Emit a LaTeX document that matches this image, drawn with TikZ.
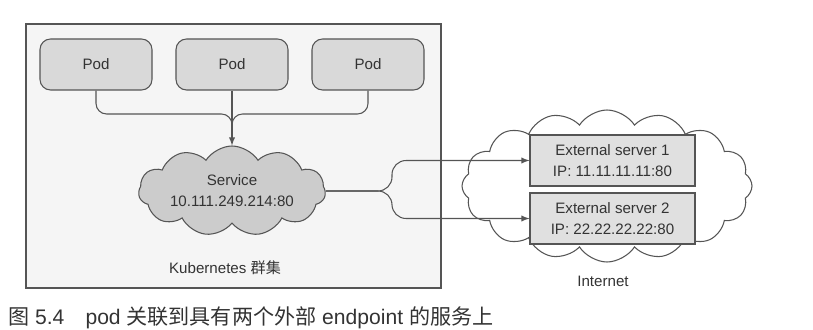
\documentclass[tikz,border=0pt]{standalone}
\usepackage{fontspec}
\setmainfont{Liberation Sans}
\newfontfamily\cjk{Noto Sans CJK SC}
\usepackage{tikz}
\usetikzlibrary{arrows,shapes.symbols}

\definecolor{ink}{HTML}{333333}
\definecolor{edge}{HTML}{555555}

\begin{document}
\begin{tikzpicture}[scale=1,
  pod/.style={draw=edge,fill=gray!30,rounded corners=6pt,minimum width=2.24cm,minimum height=1.02cm,line width=0.6pt,text=ink},
  ext/.style={draw=edge,fill=gray!24,minimum width=3.30cm,minimum height=1.02cm,line width=0.6pt,text=ink,align=center},
  link/.style={draw=edge,line width=0.6pt,rounded corners=6pt},
  every node/.style={font=\fontsize{8.6}{12}\selectfont}]
\useasboundingbox (0,0) rectangle (16.26,6.58);
%\draw[step=.5cm,gray,very thin] (0,0) grid (16.26,6.58);

% cluster
\node[draw=edge,fill=gray!8,line width=0.6pt,minimum width=8.30cm,minimum height=5.28cm] (cluster) at (4.67,3.46) {};
\node[text=ink] (k8s) at (4.50,1.22) {Kubernetes {\cjk 群集}};

\node[pod] (pod1) at (1.92,5.29) {Pod};
\node[pod] (pod2) at (4.64,5.29) {Pod};
\node[pod] (pod3) at (7.36,5.29) {Pod};

\node[cloud,cloud puffs=11,cloud puff arc=115,cloud ignores aspect,draw=edge,fill=gray!40,line width=0.6pt,
      minimum width=3.74cm,minimum height=1.8cm,inner sep=0pt,align=center,text=ink] (svc) at (4.64,2.76)
      {Service\\10.111.249.214:80};

% internet side
\node[cloud,cloud puffs=16,cloud puff arc=115,cloud ignores aspect,draw=edge,fill=white,line width=0.6pt,
      minimum width=5.8cm,minimum height=3.04cm] (net) at (12.14,2.86) {};
\node[text=ink] (netlbl) at (12.06,0.96) {Internet};

\node[ext] (ext1) at (12.25,3.37) {External server 1\\IP: 11.11.11.11:80};
\node[ext] (ext2) at (12.25,2.21) {External server 2\\IP: 22.22.22.22:80};

% pods -> service
\coordinate (jn) at (4.64,4.30);
\coordinate (jn2) at (4.64,4.00);
\draw[link] (pod1.south) |- (jn) -- (jn2);
\draw[link] (pod3.south) |- (jn) -- (jn2);
\draw[link,-latex] (pod2.south) -- (svc.north);

% service -> external endpoints
\coordinate (fk) at (7.84,2.76);
\draw[link,rounded corners=8pt,-latex] (svc.east) -- (fk) |- (ext1.west);
\draw[link,rounded corners=8pt,-latex] (svc.east) -- (fk) |- (ext2.west);

% caption
\node[anchor=west,text=ink,font=\fontsize{12}{14}\selectfont] (cap) at (0.04,0.22)
  {{\cjk 图} 5.4\quad pod {\cjk 关联到具有两个外部} endpoint {\cjk 的服务上}};
\end{tikzpicture}
\end{document}
